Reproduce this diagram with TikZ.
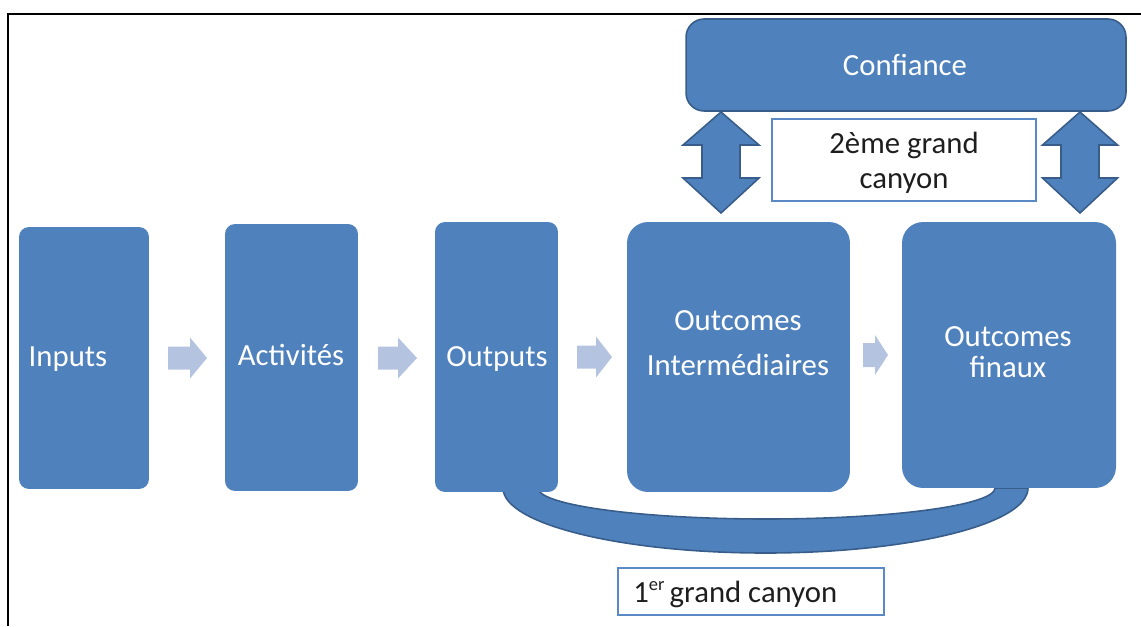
\documentclass[tikz,border=0pt]{standalone}
\usepackage{fontspec}
\setmainfont{Carlito}
\definecolor{boxblue}{HTML}{4F81BD}
\definecolor{darkblue}{HTML}{385D8A}
\definecolor{lightarr}{HTML}{B4C4E0}
\definecolor{tbborder}{HTML}{5A8AC6}
\definecolor{txtdark}{HTML}{1E1E1E}
\newcommand\dblarrow[2]{%
  \filldraw[dblarr] (#1,112) -- (#1+#2,145) -- (#1+19,145) -- (#1+19,178) -- (#1+#2,178) -- (#1,213)
    -- (#1-#2,178) -- (#1-19,178) -- (#1-19,145) -- (#1-#2,145) -- cycle;}
\newcommand\sarr[7]{%
  \fill[smallarr] (#1,#4-#5) -- (#2,#4-#5) -- (#2,#4-#6) -- (#3,#4) -- (#2,#4+#6) -- (#2,#4+#5) -- (#1,#4+#5) -- cycle;}
\begin{document}
\begin{tikzpicture}[x=0.02cm,y=-0.02cm,
  box/.style={fill=boxblue, draw=none, inner sep=0},
  wtxt/.style={text=white, font=\fontsize{17.5}{21}\selectfont, inner sep=0, anchor=base},
  btxt/.style={text=txtdark, font=\fontsize{17.5}{21}\selectfont, inner sep=0, anchor=base},
  tbox/.style={fill=white, draw=tbborder, line width=1.1pt, inner sep=0},
  dblarr/.style={fill=boxblue, draw=darkblue, line width=0.9pt, line join=miter},
  smallarr/.style={fill=lightarr},
  frame/.style={draw=black, line width=1.3pt}
]
\useasboundingbox (0,0) rectangle (1141,626);
% frame
\draw[frame] (1141,14) -- (8,14) -- (8,626);
% first canyon band
\filldraw[fill=boxblue, draw=darkblue, line width=0.9pt]
  (503,488) arc[start angle=180, end angle=0, x radius=262.5, y radius=65]
  -- (995,488) arc[start angle=0, end angle=180, x radius=228.5, y radius=31] -- cycle;
% process boxes
\node[box, rounded corners=0.2cm, minimum width=2.6cm, minimum height=5.24cm] (inp) at (84,358) {};
\node[box, rounded corners=0.2cm, minimum width=2.66cm, minimum height=5.34cm] (act) at (291.5,357.5) {};
\node[box, rounded corners=0.2cm, minimum width=2.46cm, minimum height=5.4cm] (outp) at (496.5,357) {};
\node[box, rounded corners=0.42cm, minimum width=4.46cm, minimum height=5.4cm] (oint) at (738.5,357) {};
\node[box, rounded corners=0.42cm, minimum width=4.28cm, minimum height=5.32cm] (ofin) at (1009,355) {};
% confiance
\node[box, draw=darkblue, line width=0.9pt, rounded corners=0.36cm, minimum width=8.8cm, minimum height=1.84cm] (conf) at (906,65) {};
% texts in boxes
\node[wtxt] (tinp) at (68,366) {Inputs};
\node[wtxt] (tact) at (291,365) {Activités};
\node[wtxt] (toutp) at (497,366) {Outputs};
\node[wtxt] (toint1) at (738,330) {Outcomes};
\node[wtxt] (toint2) at (738,375) {Intermédiaires};
\node[wtxt] (tofin1) at (1008,346) {Outcomes};
\node[wtxt] (tofin2) at (1008,377) {finaux};
\node[wtxt] (tconf) at (905,75) {Confiance};
% small flow arrows
\sarr{168}{190}{207}{358}{11.5}{20.5}{}
\sarr{378}{398}{417}{358}{11.5}{20.5}{}
\sarr{577}{596}{612}{357}{11.5}{20.5}{}
\sarr{863}{875}{888}{355}{12}{20}{}
% double arrows
\dblarrow{721}{38}
\dblarrow{1080}{37.5}
% 2nd canyon label
\node[tbox, minimum width=5.28cm, minimum height=1.64cm] (c2) at (904,160) {};
\node[btxt] (tc2a) at (904,153) {2ème grand};
\node[btxt] (tc2b) at (904,188) {canyon};
% 1st canyon label
\node[tbox, minimum width=5.32cm, minimum height=0.94cm] (c1) at (751,591.5) {};
\node[btxt, anchor=base west] (tc1) at (633,602) {1\raisebox{0.36em}{\fontsize{10.5}{12}\selectfont er}\,grand canyon};
\end{tikzpicture}
\end{document}
